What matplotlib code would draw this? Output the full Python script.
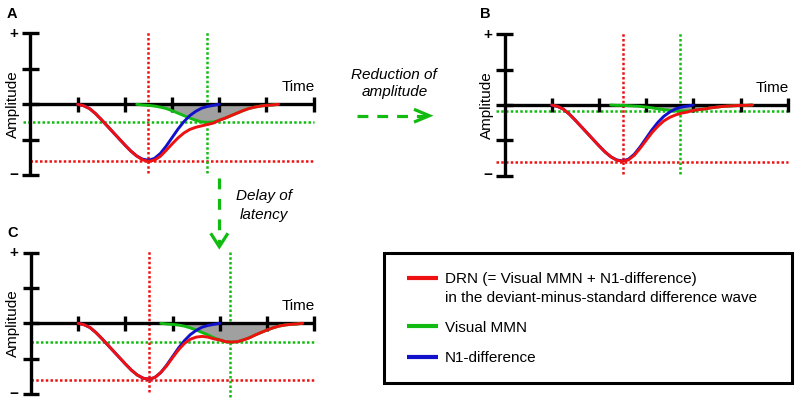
import numpy as np
import matplotlib
matplotlib.use("Agg")
import matplotlib.pyplot as plt
from matplotlib.patches import Rectangle

plt.rcParams['font.family'] = ['Liberation Sans', 'DejaVu Sans']

# ---- data (time in tick units, amplitude in tick units) ----
x_ticks = [1, 2, 3, 4, 5, 6]
y_ticks = [-2, -1, 0, 1, 2]

# N1-difference (same in all three panels)
t_n1 = np.arange(1.0, 4.01, 0.125)
n1_diff = [0, -0.04, -0.12, -0.26, -0.43, -0.61, -0.79, -0.97, -1.15, -1.32,
           -1.46, -1.55, -1.58, -1.53, -1.39, -1.18, -0.94, -0.70, -0.49, -0.32,
           -0.20, -0.11, -0.06, -0.03, 0]

# Visual MMN
t_mmn_ab = np.arange(2.25, 5.26, 0.125)
mmn_a = [0, -0.02, -0.03, -0.05, -0.08, -0.12, -0.18, -0.25, -0.32, -0.39,
         -0.45, -0.50, -0.51, -0.50, -0.45, -0.39, -0.32, -0.25, -0.18, -0.12,
         -0.08, -0.05, -0.03, -0.02, 0]
mmn_b = [0, -0.01, -0.01, -0.02, -0.03, -0.04, -0.06, -0.08, -0.11, -0.13,
         -0.15, -0.17, -0.17, -0.17, -0.15, -0.13, -0.11, -0.08, -0.06, -0.04,
         -0.03, -0.02, -0.01, -0.01, 0]
t_mmn_c = np.arange(2.75, 5.76, 0.125)
mmn_c = [0, -0.02, -0.03, -0.05, -0.08, -0.13, -0.19, -0.26, -0.33, -0.41,
         -0.47, -0.52, -0.53, -0.52, -0.47, -0.41, -0.33, -0.26, -0.19, -0.13,
         -0.08, -0.05, -0.03, -0.02, 0]

# DRN (deviant-minus-standard difference wave)
t_drn_ab = np.arange(1.0, 5.26, 0.125)
drn_a = [0, -0.04, -0.12, -0.26, -0.43, -0.61, -0.79, -0.97, -1.15, -1.32,
         -1.46, -1.57, -1.61, -1.58, -1.47, -1.30, -1.12, -0.95, -0.81, -0.71,
         -0.65, -0.61, -0.57, -0.53, -0.45, -0.39, -0.32, -0.25, -0.18, -0.12,
         -0.08, -0.05, -0.03, -0.02, 0]
drn_b = [0, -0.04, -0.12, -0.26, -0.43, -0.61, -0.79, -0.97, -1.15, -1.32,
         -1.46, -1.56, -1.59, -1.55, -1.42, -1.22, -1.00, -0.78, -0.60, -0.45,
         -0.35, -0.28, -0.23, -0.20, -0.15, -0.13, -0.11, -0.08, -0.06, -0.04,
         -0.03, -0.02, -0.01, -0.01, 0]
t_drn_c = np.arange(1.0, 5.76, 0.125)
drn_c = [0, -0.04, -0.12, -0.26, -0.43, -0.61, -0.79, -0.97, -1.15, -1.32,
         -1.46, -1.55, -1.58, -1.53, -1.39, -1.20, -0.97, -0.75, -0.57, -0.45,
         -0.39, -0.37, -0.39, -0.44, -0.47, -0.52, -0.53, -0.52, -0.47, -0.41,
         -0.33, -0.26, -0.19, -0.13, -0.08, -0.05, -0.03, -0.02, 0]

# peak latencies / amplitudes marked by dotted lines
drn_peak_lat = 2.5
drn_peak_amp = -1.6
mmn_peak_lat = {'A': 3.75, 'B': 3.72, 'C': 4.22}
mmn_peak_amp = {'A': -0.51, 'B': -0.17, 'C': -0.53}

legend_labels = ['DRN (= Visual MMN + N1-difference)\nin the deviant-minus-standard difference wave',
                 'Visual MMN', 'N1-difference']

RED = '#ee1111'
GREEN = '#11bb11'
BLUE = '#1111cc'
GRAY = '#a0a0a0'
DOT = (0, (1, 0.9))
FS = 11

W, H = 797, 400
SX, SY = 47.2, 35.4   # pixels per unit

fig = plt.figure(figsize=(W / 100, H / 100), dpi=100)


def panel_axes(ox, oy, xlim=(-0.8, 6.15), ylim=(-2.3, 2.3)):
    left = ox + SX * xlim[0]
    width = SX * (xlim[1] - xlim[0])
    top = oy - SY * ylim[1]
    height = SY * (ylim[1] - ylim[0])
    ax = fig.add_axes([left / W, 1 - (top + height) / H, width / W, height / H])
    ax.set_xlim(xlim)
    ax.set_ylim(ylim)
    ax.axis('off')
    return ax


def draw_panel(ax, key, t_drn, drn, t_mmn, mmn, hstart_red, hstart_green, vbottom_green):
    lat, amp = mmn_peak_lat[key], mmn_peak_amp[key]
    # dotted reference lines
    ax.plot([hstart_red, 6.0], [drn_peak_amp] * 2, color=RED, lw=1.8, ls=DOT, zorder=1)
    ax.plot([hstart_green, 6.0], [amp] * 2, color=GREEN, lw=1.8, ls=DOT, zorder=1)
    ax.plot([drn_peak_lat] * 2, [-1.95, 2.05], color=RED, lw=1.8, ls=DOT, zorder=1)
    ax.plot([lat] * 2, [vbottom_green, 2.05], color=GREEN, lw=1.8, ls=DOT, zorder=1)

    # shaded MMN area
    ax.fill_between(t_mmn, mmn, 0, color=GRAY, lw=0, zorder=2)

    # hand-drawn axes
    ax.plot([0, 0], [-2, 2], color='black', lw=2.4, solid_capstyle='butt', zorder=3)
    ax.plot([0, 6], [0, 0], color='black', lw=2.4, solid_capstyle='butt', zorder=3)
    for yt in y_ticks:
        ax.plot([-0.18, 0.18], [yt, yt], color='black', lw=2.4, solid_capstyle='butt', zorder=3)
    for xt in x_ticks:
        ax.plot([xt, xt], [-0.21, 0.21], color='black', lw=2.4, solid_capstyle='butt', zorder=3)

    # waves
    ax.plot(t_mmn, mmn, color=GREEN, lw=2.1, zorder=4, solid_capstyle='round')
    ax.plot(t_n1, n1_diff, color=BLUE, lw=2.1, zorder=5, solid_capstyle='round')
    ax.plot(t_drn, drn, color=RED, lw=2.1, zorder=6, solid_capstyle='round')

    # labels
    ax.text(-0.36, 1.98, '+', ha='center', va='center', fontsize=FS, fontweight='bold')
    ax.text(-0.36, -1.99, '\u2212', ha='center', va='center', fontsize=FS, fontweight='bold')
    ax.text(-0.38, 0, 'Amplitude', rotation=90, ha='center', va='center', fontsize=FS)
    ax.text(6.02, 0.38, 'Time', ha='right', va='baseline', fontsize=FS)


ax_a = panel_axes(30.5, 104.3)
draw_panel(ax_a, 'A', t_drn_ab, drn_a, t_mmn_ab, mmn_a, 0.0, -0.15, -1.95)
ax_b = panel_axes(504.5, 105.0)
draw_panel(ax_b, 'B', t_drn_ab, drn_b, t_mmn_ab, mmn_b, -0.18, -0.18, -1.95)
ax_c = panel_axes(31.0, 323.3)
draw_panel(ax_c, 'C', t_drn_c, drn_c, t_mmn_c, mmn_c, 0.0, 0.0, -2.08)

# overlay in pixel coordinates for arrows, panel letters and legend
ov = fig.add_axes([0, 0, 1, 1], zorder=-1)
ov.set_xlim(0, W)
ov.set_ylim(H, 0)
ov.axis('off')

for letter, (lx, ly) in {'A': (7, 18.3), 'B': (480, 18), 'C': (7.5, 236.7)}.items():
    ov.text(lx, ly, letter, fontsize=10.5, fontweight='bold', va='baseline', ha='left')

# "Reduction of amplitude" arrow
ov.text(394.3, 79, 'Reduction of', style='italic', fontsize=FS, ha='center', va='baseline')
ov.text(394.5, 96, 'amplitude', style='italic', fontsize=FS, ha='center', va='baseline')
ov.plot([356.7, 427], [115.7, 115.7], color=GREEN, lw=2.3, ls=(0, (3.4, 2.8)))
ov.plot([414, 429.3, 414], [109.3, 115.7, 122.1], color=GREEN, lw=2.3,
        solid_joinstyle='miter', solid_capstyle='butt')

# "Delay of latency" arrow
ov.text(263.8, 200, 'Delay of', style='italic', fontsize=FS, ha='center', va='baseline')
ov.text(264.3, 218.5, 'latency', style='italic', fontsize=FS, ha='center', va='baseline')
ov.plot([219.3, 219.3], [177.5, 245], color=GREEN, lw=2.3, ls=(0, (3.4, 3.0)))
ov.plot([210.7, 219.3, 227.9], [233.3, 246.7, 233.3], color=GREEN, lw=2.3,
        solid_joinstyle='miter', solid_capstyle='butt')

# legend box
ov.add_patch(Rectangle((384, 253), 408, 130, fill=False, edgecolor='black', lw=2.2))
leg_colors = [RED, GREEN, BLUE]
leg_line_y = [278, 325.7, 357.3]
leg_text_y = [283.5, 332, 362]
for lab, col, ly, ty in zip(legend_labels, leg_colors, leg_line_y, leg_text_y):
    ov.plot([407, 438], [ly, ly], color=col, lw=3.0, solid_capstyle='butt')
    ov.text(445, ty, lab.split('\n')[0], fontsize=FS, ha='left', va='baseline')
    if '\n' in lab:
        ov.text(445, ty + 18.2, lab.split('\n')[1], fontsize=FS, ha='left', va='baseline')

fig.savefig('out.png', dpi=100)
